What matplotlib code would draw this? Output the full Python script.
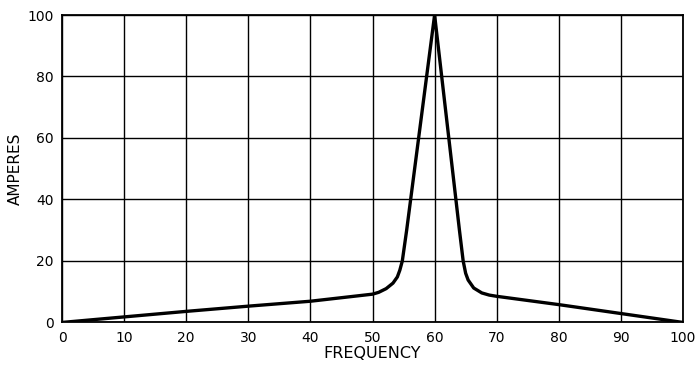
import matplotlib
matplotlib.use("Agg")
import matplotlib.pyplot as plt
import numpy as np

# resonance curve, values
frequency = [0, 10, 20, 30, 40, 50, 51.0, 52.2, 53.3, 54.0, 54.4, 54.8, 55.5, 60,
             64.0, 64.6, 65.0, 65.4, 66.3, 67.6, 68.8, 70, 80, 90, 100]
amperes = [0, 1.8, 3.6, 5.3, 6.9, 9.2, 9.8, 11.0, 12.8, 14.8, 17, 20, 30, 100,
           30, 20, 16.0, 13.8, 11.2, 9.6, 8.9, 8.5, 5.8, 2.9, 0]

x_ticks = list(range(0, 101, 10))
y_ticks = list(range(0, 101, 20))

fig = plt.figure(figsize=(7, 3.66), dpi=100)
ax = fig.add_axes([0.0886, 0.119, 0.8871, 0.840])

ax.plot(frequency, amperes, color="black", lw=2.4, solid_joinstyle="round",
        solid_capstyle="round", zorder=3)

ax.set_xlim(0, 100)
ax.set_ylim(0, 100)
ax.set_xticks(x_ticks)
ax.set_yticks(y_ticks)
ax.grid(True, color="black", lw=1.0)
for s in ax.spines.values():
    s.set_linewidth(1.3)
ax.tick_params(length=0, labelsize=10, pad=6)

ax.set_xlabel("FREQUENCY", fontsize=11.5, labelpad=1)
ax.set_ylabel("AMPERES", fontsize=11, labelpad=3)

fig.savefig("out.png", dpi=100)
